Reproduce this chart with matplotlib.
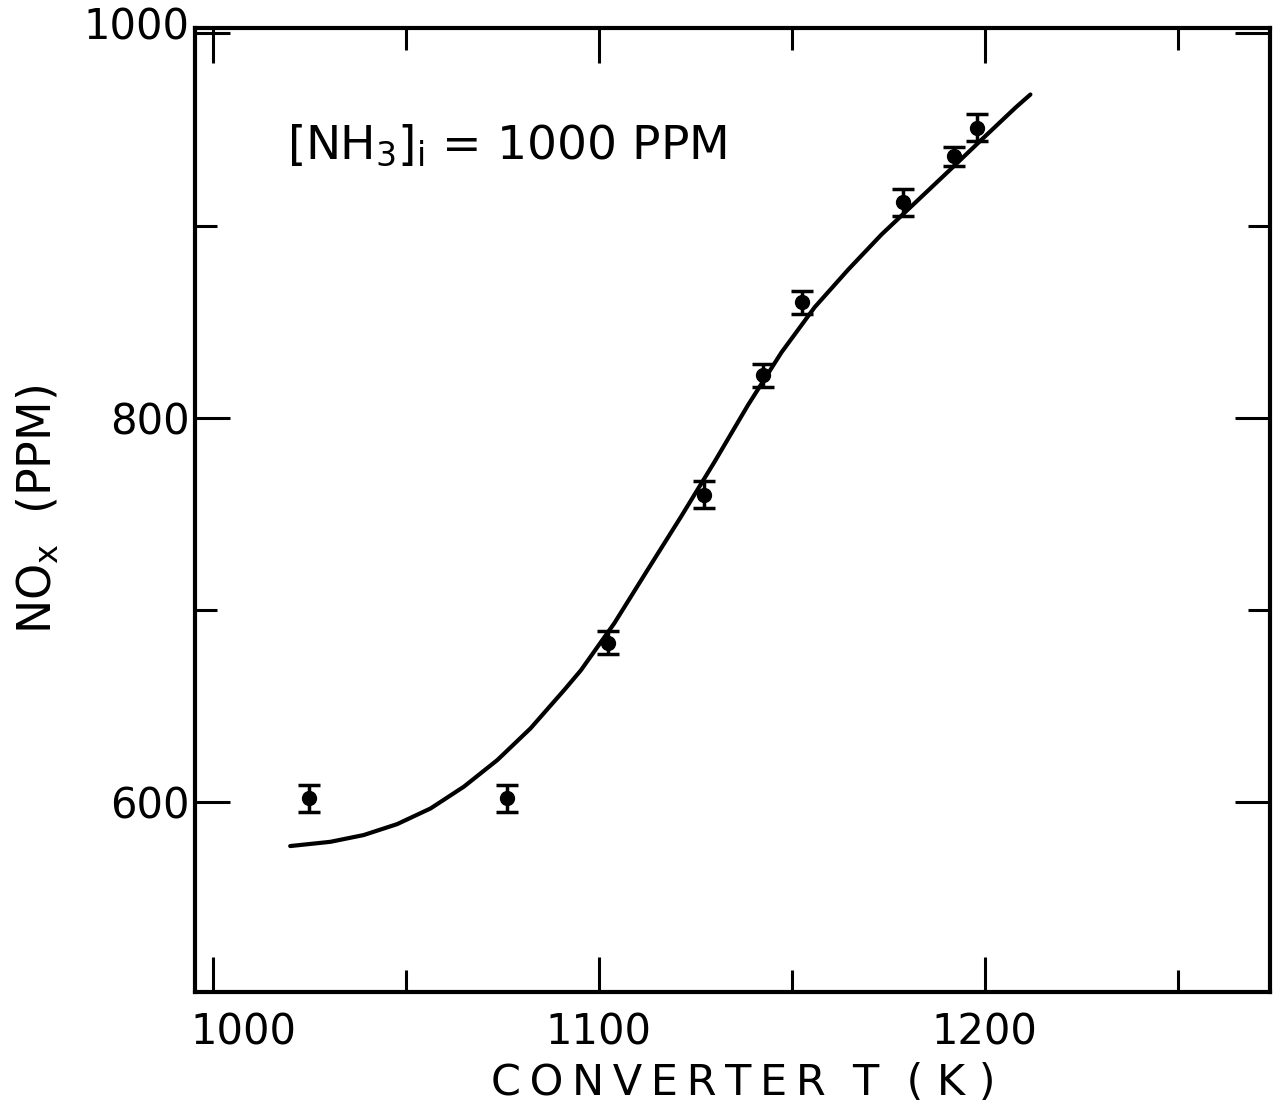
import matplotlib
matplotlib.use("Agg")
import matplotlib.pyplot as plt
from matplotlib.ticker import FixedLocator
from matplotlib.transforms import ScaledTranslation

# Data
temp_K = [1024.8, 1076.3, 1102.3, 1127.2, 1142.5, 1152.5, 1178.9, 1191.9, 1198.0]
nox_ppm = [602, 602, 683, 760, 822, 860, 912, 936, 951]
nox_err = [7, 7, 6, 7, 6, 6, 7, 5, 7]

curve_T = [1020.0, 1030.4, 1039.0, 1047.7, 1056.4, 1065.0, 1073.7, 1082.3,
           1091.0, 1095.3, 1104.0, 1112.6, 1121.3, 1130.0, 1138.6, 1147.3,
           1155.9, 1164.6, 1173.2, 1181.9, 1190.6, 1199.2, 1207.9, 1211.8]
curve_nox = [577.1, 579.3, 582.8, 588.5, 596.7, 608.0, 621.9, 638.4,
             658.3, 668.5, 693.1, 720.8, 748.6, 777.2, 806.5, 834.0,
             857.5, 877.1, 895.3, 911.8, 928.3, 944.8, 961.3, 968.2]

x_major = [1000, 1100, 1200]
x_minor = [1050, 1150, 1250]
y_major = [600, 800, 1000]
y_minor = [700, 900]

plt.rcParams['font.family'] = ['DejaVu Sans']
plt.rcParams['mathtext.default'] = 'regular'

fig = plt.figure(figsize=(12.82, 11.05), dpi=100)
ax = fig.add_axes([0.152, 0.102, 0.839, 0.873])

ax.plot(curve_T, curve_nox, color='black', lw=3.0, solid_capstyle='round',
        solid_joinstyle='round')
ax.errorbar(temp_K, nox_ppm, yerr=nox_err, fmt='o', color='black', ms=10,
            capsize=8, capthick=2.5, elinewidth=2.5)

ax.set_xlim(995.3, 1274)
ax.set_ylim(501, 1003)

ax.xaxis.set_major_locator(FixedLocator(x_major))
ax.xaxis.set_minor_locator(FixedLocator(x_minor))
ax.yaxis.set_major_locator(FixedLocator(y_major))
ax.yaxis.set_minor_locator(FixedLocator(y_minor))

ax.tick_params(which='both', direction='in', top=True, right=True, width=2.2, color='black')
ax.tick_params(which='major', length=25)
ax.tick_params(which='minor', length=16)
ax.tick_params(axis='x', which='major', labelsize=30, pad=14)
ax.tick_params(axis='y', which='major', labelsize=30, pad=4)

for s in ax.spines.values():
    s.set_linewidth(3)

# the hand-lettered "1000" sits a little to the right of its tick
fig.canvas.draw()
lbl0 = ax.get_xticklabels()[0]
lbl0.set_transform(lbl0.get_transform() + ScaledTranslation(0.3, 0, fig.dpi_scale_trans))
lbl_top = ax.get_yticklabels()[-1]
lbl_top.set_transform(lbl_top.get_transform() + ScaledTranslation(0, 0.1, fig.dpi_scale_trans))

ts = '\u2009'
ax.set_xlabel(ts.join('CONVERTER') + '  T  ( K )', fontsize=31)
ax.xaxis.set_label_coords(0.51, -0.072)
ax.set_ylabel(r'NO$_x$  (PPM)', fontsize=33)
ax.yaxis.set_label_coords(-0.124, 0.5)

ax.text(0.086, 0.878, r'[NH$_3$]$_i$ = 1000 PPM', transform=ax.transAxes,
        fontsize=34, ha='left', va='center')

fig.savefig('out.png', dpi=100, facecolor='white')
